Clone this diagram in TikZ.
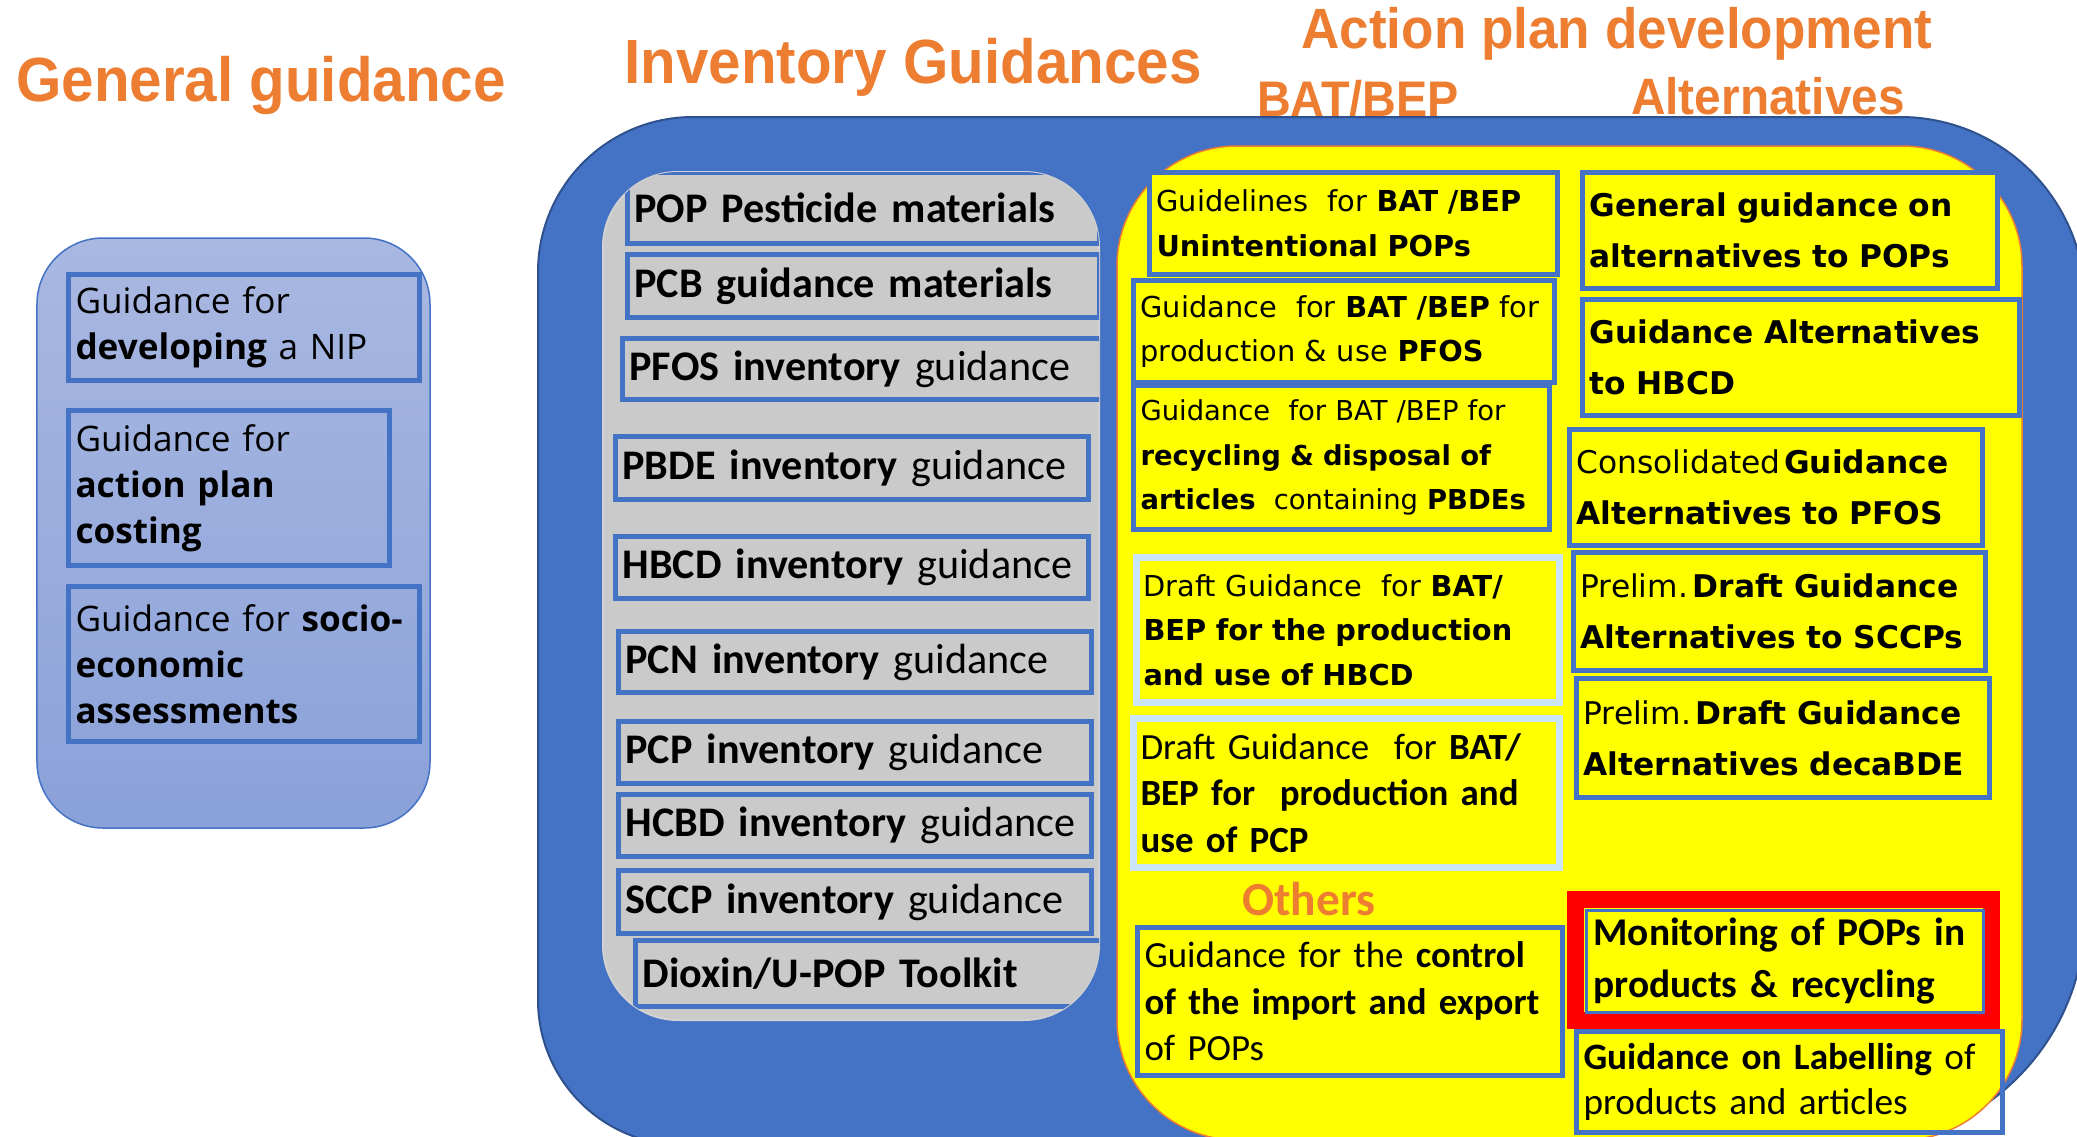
\documentclass[tikz,border=0pt]{standalone}
\usepackage{fontspec}
\usepackage{graphicx}
\setmainfont{Carlito}
\newfontfamily\headfont{Liberation Sans}
\newfontfamily\wideFont{DejaVu Sans}
\newfontfamily\nipfont{Open Sans}
\definecolor{ofblue}{HTML}{4472C4}
\definecolor{ofbluedark}{HTML}{2F528F}
\definecolor{oforange}{HTML}{ED7D31}
\definecolor{nipTop}{HTML}{A9B8E1}
\definecolor{nipBottom}{HTML}{8AA1D9}
\definecolor{panelgray}{HTML}{CACACA}
\definecolor{draftblue}{HTML}{CBE6FA}
\definecolor{planyellow}{RGB}{255,255,0}
\definecolor{alertred}{RGB}{255,0,0}
\newcommand{\tall}[1]{\scalebox{1}[1.07]{#1}}
\hyphenpenalty=10000

\begin{document}
\begin{tikzpicture}[x=1cm,y=-1cm,
        headline/.style={text=oforange, anchor=base, inner sep=0pt,
            font=\headfont\bfseries\fontsize{#1}{#1}\selectfont},
        gbox/.style 2 args={draw=ofblue, line width=0.05cm, anchor=north west,
            align=left, inner xsep=0.07cm, inner ysep=0pt,
            minimum width=#1cm, minimum height=#2cm,
            /utils/exec={\pgfmathsetlengthmacro\boxtextwidth{#1cm-0.14cm}},
            text width=\boxtextwidth},
        nipbox/.style={font=\nipfont\fontsize{10}{13.1}\selectfont},
        invbox/.style={fill=panelgray, font=\fontsize{12}{14}\selectfont},
        batbox/.style={fill=planyellow, font=\wideFont\fontsize{8.2}{12.7}\selectfont},
        altbox/.style={fill=planyellow, font=\wideFont\fontsize{8.9}{14.6}\selectfont},
        calbox/.style={fill=planyellow, font=\fontsize{10.5}{13.2}\selectfont},
        draftedge/.style={draw=draftblue, line width=0.07cm},
    ]
    \clip (0,0) rectangle (20.77,11.37);
    \fill[white] (0,0) rectangle (20.77,11.37);

    % headings
    \node[headline=16.6] (gentitle) at (2.61,1.01) {\tall{General guidance}};
    \node[headline=16.6] (invtitle) at (9.13,0.83) {\tall{Inventory Guidances}};
    \node[headline=15.1] (aptitle) at (16.17,0.48) {\tall{Action plan development}};
    \node[headline=13.3] (battitle) at (13.58,1.16) {\tall{BAT/BEP}};
    \node[headline=13.6] (alttitle) at (17.68,1.14) {\tall{Alternatives}};

    % general guidance panel
    \draw[draw=ofblue, line width=0.015cm, top color=nipTop, bottom color=nipBottom,
        rounded corners=0.66cm] (0.37,2.38) rectangle (4.30,8.28);
    \node[gbox={3.51}{1.06}, nipbox] (nip) at (0.66,2.72) {Guidance for\\\textbf{developing} a NIP};
    \node[gbox={3.21}{1.55}, nipbox] (costing) at (0.66,4.08) {Guidance for\\\textbf{action plan}\\\textbf{costing}};
    \node[gbox={3.51}{1.55}, nipbox] (socio) at (0.66,5.84) {Guidance for \textbf{socio-}\\\textbf{economic}\\\textbf{assessments}};

    % big blue frame
    \draw[fill=ofblue, draw=ofbluedark, line width=0.02cm]
        (5.38,6) [rounded corners=1.55cm] |- (13,1.17)
        [rounded corners=1.85cm] -| (20.85,6)
        [rounded corners=2.3cm] |- (13,11.45)
        [rounded corners=1.45cm] -| (5.38,6) -- cycle;

    % inventory column
    \draw[fill=panelgray, draw=gray!35, line width=0.02cm, rounded corners=0.75cm]
        (6.03,1.72) rectangle (10.99,10.20);
    \begin{scope}
        \clip[rounded corners=0.75cm] (6.03,1.72) rectangle (10.99,10.20);
        \node[gbox={4.72}{0.71}, invbox] (pest) at (6.25,1.70) {\textbf{POP Pesticide materials}};
        \node[gbox={4.72}{0.63}, invbox] (pcb) at (6.25,2.52) {\textbf{PCB guidance materials}};
        \node[gbox={4.79}{0.61}, invbox] (pfos) at (6.20,3.36) {\textbf{PFOS inventory} guidance};
        \node[gbox={4.73}{0.63}, invbox] (pbde) at (6.13,4.34) {\textbf{PBDE inventory} guidance};
        \node[gbox={4.73}{0.62}, invbox] (hbcd) at (6.13,5.34) {\textbf{HBCD inventory} guidance};
        \node[gbox={4.73}{0.61}, invbox] (pcn) at (6.16,6.29) {\textbf{PCN inventory} guidance};
        \node[gbox={4.73}{0.62}, invbox] (pcp) at (6.16,7.19) {\textbf{PCP inventory} guidance};
        \node[gbox={4.73}{0.62}, invbox] (hcbd) at (6.16,7.92) {\textbf{HCBD inventory} guidance};
        \node[gbox={4.73}{0.63}, invbox] (sccp) at (6.16,8.68) {\textbf{SCCP inventory} guidance};
        \node[gbox={4.66}{0.66}, invbox] (dioxin) at (6.33,9.38) {\textbf{Dioxin/U-POP Toolkit}};
    \end{scope}

    % action plan panel
    \draw[fill=planyellow, draw=oforange, line width=0.015cm, rounded corners=1.2cm]
        (11.17,1.46) rectangle (20.22,11.40);

    % BAT/BEP column
    \node[gbox={4.08}{1.02}, batbox] (upops) at (11.47,1.70) {Guidelines~~for \textbf{BAT /BEP}\\\textbf{Unintentional POPs}};
    \node[gbox={4.21}{1.02}, batbox] (batpfos) at (11.31,2.78) {Guidance~~for \textbf{BAT /BEP} for\\production \& use \textbf{PFOS}};
    \node[gbox={4.16}{1.44}, batbox, font=\wideFont\fontsize{7.8}{12.6}\selectfont] (batpbde) at (11.31,3.83) {Guidance~~for BAT /BEP for\\\textbf{recycling \& disposal of}\\\textbf{articles}~~containing \textbf{PBDEs}};
    \node[gbox={4.23}{1.45}, batbox, draftedge] (bathbcd) at (11.33,5.54) {Draft Guidance~~for \textbf{BAT/}\\\textbf{BEP for the production}\\\textbf{and use of HBCD}};
    \node[gbox={4.26}{1.49}, calbox, draftedge] (batpcp) at (11.30,7.15) {Draft Guidance~~for \textbf{BAT/}\\\textbf{BEP for~~production and}\\\textbf{use of PCP}};
    \node[text=oforange, font=\bfseries\fontsize{13.5}{15}\selectfont] (others) at (13.09,8.99) {Others};
    \node[gbox={4.25}{1.48}, calbox] (trade) at (11.35,9.25) {Guidance for the \textbf{control}\\\textbf{of the import and export}\\of POPs};

    % alternatives column
    \node[gbox={4.15}{1.16}, altbox] (altpops) at (15.80,1.70) {\textbf{General guidance on}\\\textbf{alternatives to POPs}};
    \node[gbox={4.37}{1.16}, altbox] (althbcd) at (15.80,2.97) {\textbf{Guidance Alternatives}\\\textbf{to HBCD}};
    \node[gbox={4.13}{1.16}, altbox] (altpfos) at (15.67,4.27) {Consolidated\hspace{0.12em}\textbf{Guidance}\\\textbf{Alternatives to PFOS}};
    \node[gbox={4.12}{1.18}, altbox] (altsccp) at (15.71,5.50) {Prelim.\hspace{0.15em}\textbf{Draft Guidance}\\\textbf{Alternatives to SCCPs}};
    \node[gbox={4.13}{1.19}, altbox] (altdeca) at (15.74,6.76) {Prelim.\hspace{0.15em}\textbf{Draft Guidance}\\\textbf{Alternatives decaBDE}};
    \node[gbox={4.26}{1.01}, font=\fontsize{10.6}{12.8}\selectfont] (labelling) at (15.74,10.29) {\textbf{Guidance on Labelling} of\\products and articles};
    \draw[alertred, line width=0.17cm] (15.755,8.995) rectangle (19.915,10.205);
    \node[gbox={3.97}{1.02}, line width=0.03cm, fill=planyellow, font=\fontsize{11.2}{14.8}\selectfont] (monitor) at (15.85,9.09) {\textbf{Monitoring of POPs in}\\\textbf{products \& recycling}};
\end{tikzpicture}
\end{document}
